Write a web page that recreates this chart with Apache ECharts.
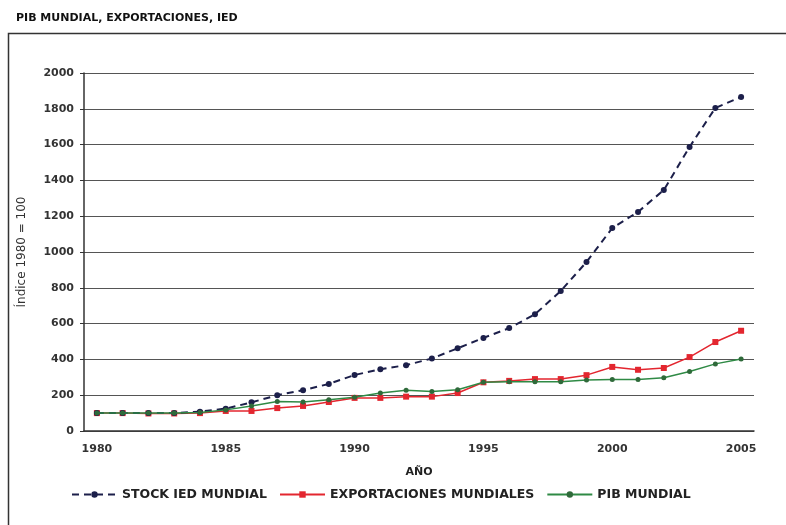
<!DOCTYPE html>
<html>
<head>
<meta charset="utf-8">
<script src="https://cdn.jsdelivr.net/npm/echarts@6/dist/echarts.min.js"></script>
<style>
  html, body { margin: 0; padding: 0; background: #fff; }
  #chart { width: 786px; height: 525px; }
</style>
</head>
<body>
<div id="chart"></div>
<script>
// Years 1980–2005, index base 1980 = 100
const years = ['1980','1981','1982','1983','1984','1985','1986','1987','1988','1989',
               '1990','1991','1992','1993','1994','1995','1996','1997','1998','1999',
               '2000','2001','2002','2003','2004','2005'];
const stockIED = [100,100,100,100,108,125,160,200,228,263,313,345,368,405,462,520,575,652,782,944,1134,1224,1346,1587,1805,1866];
const exportaciones = [100,100,98,98,100,112,112,128,140,162,185,185,192,192,212,272,280,290,290,312,358,342,352,413,497,560];
const pibMundial = [100,100,100,100,104,118,140,165,162,175,188,212,228,220,230,272,275,275,275,285,288,288,298,332,375,402];
const seriesNames = ['STOCK IED MUNDIAL', 'EXPORTACIONES MUNDIALES', 'PIB MUNDIAL'];

const FONT = '"DejaVu Sans", "Liberation Sans", sans-serif';

const chart = echarts.init(document.getElementById('chart'), null, { renderer: 'canvas' });

chart.setOption({
  backgroundColor: '#fff',
  animation: false,
  title: {
    text: 'PIB MUNDIAL, EXPORTACIONES, IED',
    left: 11, top: 8,
    textStyle: { fontFamily: FONT, fontSize: 11, fontWeight: 'bold', color: '#111' }
  },
  graphic: [{
    type: 'rect',
    shape: { x: 8.5, y: 33.5, width: 800, height: 520 },
    style: { fill: 'none', stroke: '#333', lineWidth: 1.5 },
    z: -1
  }],
  legend: {
    data: seriesNames,
    bottom: 19, left: 66,
    itemGap: 12, itemWidth: 45, itemHeight: 8,
    textStyle: { fontFamily: FONT, fontSize: 12.5, fontWeight: 'bold', color: '#222' }
  },
  grid: { left: 84, right: 32, top: 73, bottom: 94 },
  xAxis: {
    type: 'category',
    data: years,
    boundaryGap: true,
    name: 'AÑO',
    nameLocation: 'middle',
    nameGap: 36,
    nameTextStyle: { fontFamily: FONT, fontSize: 11, fontWeight: 'bold', color: '#222' },
    axisLine: { lineStyle: { color: '#333', width: 1.5 } },
    axisTick: { interval: 0, length: 4, lineStyle: { color: '#333' } },
    axisLabel: {
      interval: (i) => i % 5 === 0,
      fontFamily: FONT, fontSize: 11, fontWeight: 'bold', color: '#333', margin: 13
    }
  },
  yAxis: {
    type: 'value',
    min: 0, max: 2000, interval: 200,
    name: 'Índice 1980 = 100',
    nameLocation: 'middle',
    nameGap: 56,
    nameTextStyle: { fontFamily: FONT, fontSize: 12, color: '#333' },
    axisLine: { show: true, lineStyle: { color: '#333', width: 1.5 } },
    axisTick: { show: true, length: 4, lineStyle: { color: '#333' } },
    axisLabel: {
      formatter: (v) => String(v),
      fontFamily: FONT, fontSize: 11, fontWeight: 'bold', color: '#333', margin: 10
    },
    splitLine: { lineStyle: { color: '#555', width: 1.2 } }
  },
  series: [
    {
      name: seriesNames[0], type: 'line', data: stockIED,
      symbol: 'circle', symbolSize: 6,
      lineStyle: { color: '#1c1f4a', width: 2, type: [7, 5] },
      itemStyle: { color: '#1c1f4a' }, z: 3
    },
    {
      name: seriesNames[1], type: 'line', data: exportaciones,
      symbol: 'rect', symbolSize: 6,
      lineStyle: { color: '#e3262f', width: 1.5 },
      itemStyle: { color: '#e3262f' }, z: 2
    },
    {
      name: seriesNames[2], type: 'line', data: pibMundial,
      symbol: 'circle', symbolSize: 5,
      lineStyle: { color: '#2f8a45', width: 1.5 },
      itemStyle: { color: '#2f6a3a' }, z: 4
    }
  ]
});
</script>
</body>
</html>
